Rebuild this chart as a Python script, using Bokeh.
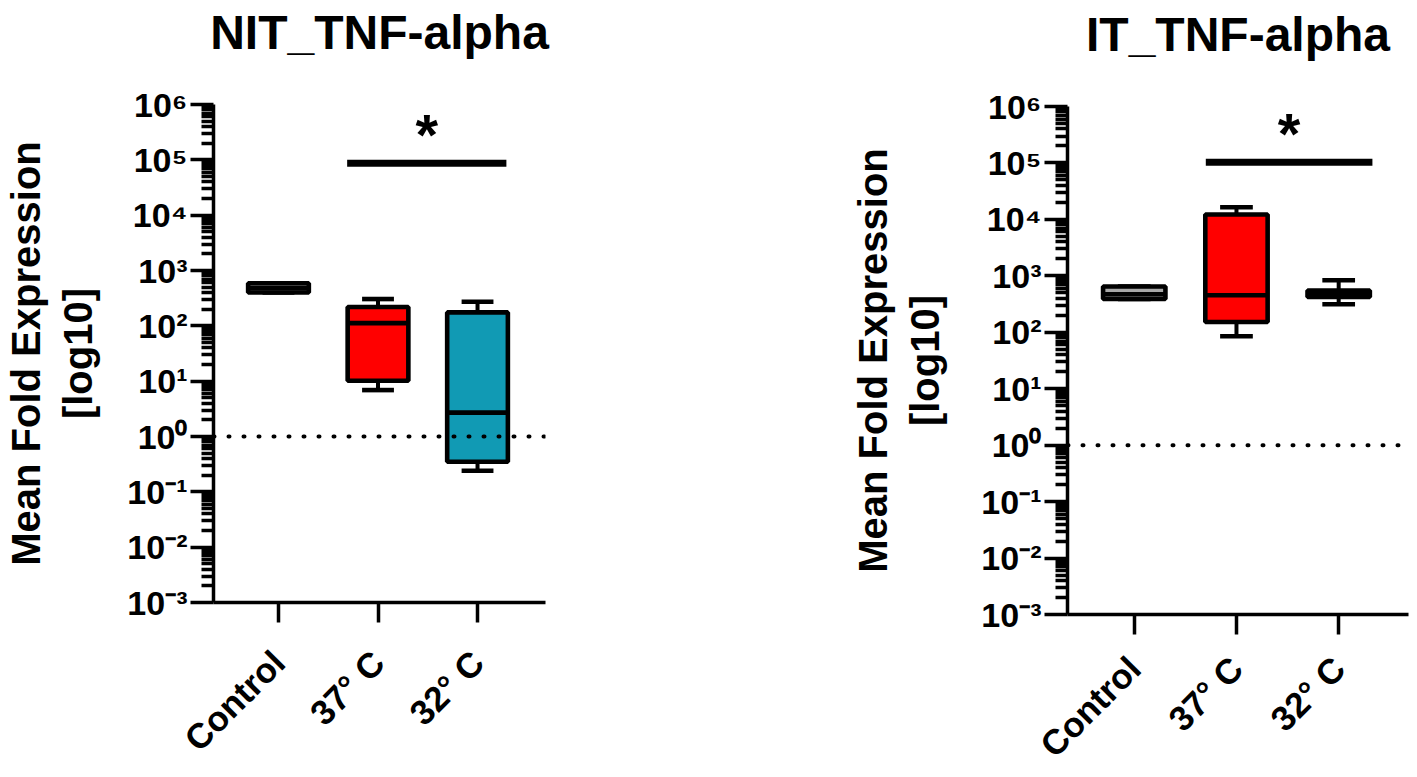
import math
import numpy as np
from bokeh.plotting import figure
from bokeh.models import ColumnDataSource, FixedTicker, CustomJSTickFormatter, Span, Range1d
from bokeh.layouts import row
from bokeh.embed import file_html
from bokeh.resources import INLINE
from bokeh.core.properties import value

# ---------------- data ----------------
categories = ["Control", "37° C", "32° C"]
positions = [0, 1, 2]
box_colors = ["#a6a6a6", "#ff0000", "#119ab4"]

nit_title = "NIT_TNF-alpha"
nit_min = [400, 6.9, 0.24]
nit_q1 = [400, 10.2, 0.35]
nit_median = [480, 112, 2.7]
nit_q3 = [587, 219, 175]
nit_max = [587, 305, 273]
nit_sig_y = 8.7e4
nit_sig_from = 0.69
nit_sig_to = 2.29

it_title = "IT_TNF-alpha"
it_min = [389, 85, 314]
it_q1 = [389, 152, 423]
it_median = [472, 453, 480]
it_q3 = [646, 12200, 549]
it_max = [646, 16400, 836]
it_sig_y = 1.03e5
it_sig_from = 0.70
it_sig_to = 2.33

major_ticks = [10.0 ** k for k in range(-3, 7)]
minor_ticks = [m * 10.0 ** k for k in range(-3, 6) for m in range(2, 10)]
reference_level = 1.0

FONT = "Liberation Sans"
BOX_W = 0.61
CAP_W = 0.32
LW = 4.6

sup_code = """
const e = Math.round(Math.log10(tick));
const sup = {'0':'\\u2070','1':'\\u00b9','2':'\\u00b2','3':'\\u00b3','4':'\\u2074','5':'\\u2075','6':'\\u2076','7':'\\u2077','8':'\\u2078','9':'\\u2079','-':'\\u207b'};
return '10' + String(e).split('').map(c => sup[c]).join('');
"""


def make_panel(title, vmin, q1, med, q3, vmax, sig_y, sig_from, sig_to,
               fw, fh, bl, br, bt, bb, ylabel_standoff, xlabel_standoff):
    p = figure(frame_width=fw, frame_height=fh, y_axis_type="log",
               x_range=Range1d(-0.653, 2.683), y_range=Range1d(1e-3, 1e6),
               output_backend="svg", toolbar_location=None,
               min_border_left=bl, min_border_right=br,
               min_border_top=bt, min_border_bottom=bb)
    p.frame_align = False
    p.outline_line_color = None
    p.grid.visible = False
    p.background_fill_color = "white"

    pos = np.array(positions, dtype=float)
    src = ColumnDataSource(dict(
        x=pos, x0=pos - BOX_W / 2, x1=pos + BOX_W / 2,
        c0=pos - CAP_W / 2, c1=pos + CAP_W / 2,
        vmin=vmin, q1=q1, med=med, q3=q3, vmax=vmax, color=box_colors))

    # whiskers
    p.segment(x0="x", x1="x", y0="q3", y1="vmax", source=src, line_color="black", line_width=4)
    p.segment(x0="x", x1="x", y0="q1", y1="vmin", source=src, line_color="black", line_width=4)
    p.segment(x0="c0", x1="c1", y0="vmax", y1="vmax", source=src, line_color="black", line_width=LW)
    p.segment(x0="c0", x1="c1", y0="vmin", y1="vmin", source=src, line_color="black", line_width=LW)
    # boxes
    p.vbar(x="x", width=BOX_W, bottom="q1", top="q3", source=src,
           fill_color="color", line_color="black", line_width=LW)
    # medians
    p.segment(x0="x0", x1="x1", y0="med", y1="med", source=src, line_color="black", line_width=LW)

    # reference dotted line
    p.add_layout(Span(location=reference_level, dimension="width", line_color="black",
                      line_width=4, line_dash="1 14", line_cap="round"))

    # significance bar
    p.segment(x0=[sig_from], x1=[sig_to], y0=[sig_y], y1=[sig_y], line_color="black", line_width=7)
    p.text(x=[(sig_from + sig_to) / 2], y=[sig_y], text=["*"], y_offset=4,
           text_font=value(FONT), text_font_style="bold", text_font_size="58px",
           text_align="center", text_baseline="bottom", text_color="black")

    # title (a blank second line lifts the title towards the top edge)
    p.title.text = title + "\n\u00a0"
    p.title.align = "center"
    p.title.text_font = FONT
    p.title.text_font_style = "bold"
    p.title.text_font_size = "48px"
    p.title.text_line_height = 0.85
    p.title.text_color = "black"
    p.title.standoff = 0

    # y axis
    ya = p.yaxis[0]
    ya.ticker = FixedTicker(ticks=major_ticks, minor_ticks=minor_ticks)
    ya.formatter = CustomJSTickFormatter(code=sup_code)
    ya.axis_line_width = 3.5
    ya.major_tick_line_width = 3.5
    ya.minor_tick_line_width = 3.5
    ya.major_tick_out = 23
    ya.major_tick_in = 0
    ya.minor_tick_out = 12
    ya.minor_tick_in = 0
    ya.major_label_standoff = 3
    ya.major_label_text_font = FONT
    ya.major_label_text_font_style = "bold"
    ya.major_label_text_font_size = "34px"
    ya.major_label_text_color = "black"
    ya.axis_label = "Mean Fold Expression\n[log10]"
    ya.axis_label_text_font = FONT
    ya.axis_label_text_font_style = "bold"
    ya.axis_label_text_font_size = "40px"
    ya.axis_label_text_color = "black"
    ya.axis_label_standoff = ylabel_standoff

    # x axis
    xa = p.xaxis[0]
    xa.ticker = FixedTicker(ticks=positions)
    xa.major_label_overrides = {k: v for k, v in zip(positions, categories)}
    xa.major_label_orientation = math.pi / 4
    xa.axis_line_width = 3.5
    xa.major_tick_line_width = 3.5
    xa.major_tick_out = 20
    xa.major_tick_in = 0
    xa.minor_tick_line_color = None
    xa.major_label_standoff = xlabel_standoff
    xa.major_label_text_font = FONT
    xa.major_label_text_font_style = "bold"
    xa.major_label_text_font_size = "35px"
    xa.major_label_text_color = "black"
    return p


p1 = make_panel(nit_title, nit_min, nit_q1, nit_median, nit_q3, nit_max,
                nit_sig_y, nit_sig_from, nit_sig_to,
                fw=332, fh=498, bl=205, br=171, bt=104, bb=171,
                ylabel_standoff=24, xlabel_standoff=34)
p2 = make_panel(it_title, it_min, it_q1, it_median, it_q3, it_max,
                it_sig_y, it_sig_from, it_sig_to,
                fw=341, fh=508, bl=351, br=1, bt=106, bb=165,
                ylabel_standoff=31, xlabel_standoff=28)

layout = row(p1, p2)
open("out.html", "w", encoding="utf-8").write(file_html(layout, INLINE))
